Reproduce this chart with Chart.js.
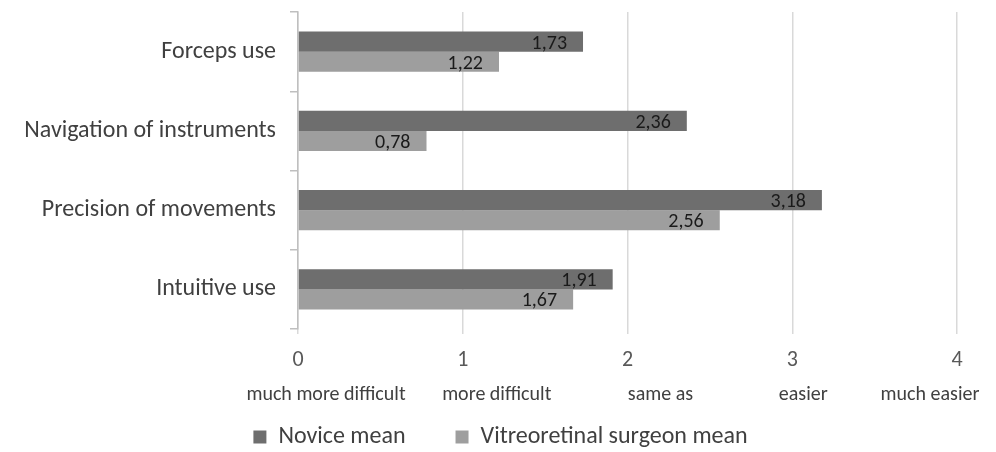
<!DOCTYPE html>
<html>
<head>
<meta charset="utf-8">
<script src="https://cdn.jsdelivr.net/npm/chart.js@4/dist/chart.umd.min.js"></script>
<style>
  html, body { margin: 0; padding: 0; background: #fff; }
  #wrap { width: 996px; height: 452px; }
</style>
</head>
<body>
<div id="wrap"><canvas id="chart"></canvas></div>
<script>
const categories = ['Forceps use', 'Navigation of instruments', 'Precision of movements', 'Intuitive use'];
const noviceMean = [1.73, 2.36, 3.18, 1.91];
const surgeonMean = [1.22, 0.78, 2.56, 1.67];
const tickValues = [0, 1, 2, 3, 4];
const tickDescriptions = ['much more difficult', 'more difficult', 'same as', 'easier', 'much easier'];

const FONT = "Carlito, Lato, 'Liberation Sans', sans-serif";
// horizontal nudges of the description line, as in the original
const descShift = [28, 34, 33, 11, -27];

const barLabels = {
  id: 'barLabels',
  afterDatasetsDraw(chart) {
    const ctx = chart.ctx;
    ctx.save();
    ctx.font = '20px ' + FONT;
    ctx.fillStyle = '#1a1a1a';
    ctx.textAlign = 'right';
    ctx.textBaseline = 'middle';
    chart.data.datasets.forEach((ds, i) => {
      chart.getDatasetMeta(i).data.forEach((bar, j) => {
        const txt = ds.data[j].toFixed(2).replace('.', ',');
        ctx.fillText(txt, bar.x - 16, bar.y + 2);
      });
    });
    ctx.restore();
  }
};

const descLine = {
  id: 'descLine',
  afterDraw(chart) {
    const ctx = chart.ctx;
    const x = chart.scales.x;
    ctx.save();
    ctx.font = '20px ' + FONT;
    ctx.fillStyle = '#404040';
    ctx.textAlign = 'center';
    ctx.textBaseline = 'middle';
    tickDescriptions.forEach((d, i) => {
      ctx.fillText(d, x.getPixelForValue(tickValues[i]) + descShift[i], chart.chartArea.bottom + 66);
    });
    ctx.restore();
  }
};

// push the legend row a little lower and re-centre it
const legendNudge = {
  id: 'legendNudge',
  afterLayout(chart) {
    if (chart.legend) {
      chart.legend.top += 7;
      chart.legend.bottom += 7;
      chart.legend.left += 22;
      chart.legend.right += 22;
    }
  }
};

new Chart(document.getElementById('chart'), {
  type: 'bar',
  data: {
    labels: categories,
    datasets: [
      { label: 'Novice mean', data: noviceMean, backgroundColor: '#6e6e6e' },
      { label: 'Vitreoretinal surgeon mean', data: surgeonMean, backgroundColor: '#9e9e9e' }
    ]
  },
  options: {
    indexAxis: 'y',
    responsive: true,
    maintainAspectRatio: false,
    animation: false,
    categoryPercentage: 0.51,
    barPercentage: 1,
    layout: { padding: { top: 12, right: 39, left: 0, bottom: 0 } },
    scales: {
      x: {
        min: 0,
        max: 4,
        afterBuildTicks: s => { s.ticks = tickValues.map(v => ({ value: v })); },
        afterFit: s => { s.height = 39; },
        border: { display: false },
        grid: { color: '#d9d9d9', lineWidth: 1.5, tickLength: 5 },
        ticks: { color: '#595959', font: { family: FONT, size: 22 }, padding: 13 }
      },
      y: {
        afterFit: s => { s.width = 298; s.paddingTop = 0; s.paddingBottom = 0; },
        border: { color: '#bfbfbf', width: 1.5 },
        grid: { drawOnChartArea: false, offset: true, tickLength: 8, color: '#bfbfbf', lineWidth: 1.5 },
        ticks: { color: '#404040', font: { family: FONT, size: 24 }, padding: 14 }
      }
    },
    plugins: {
      legend: {
        position: 'bottom',
        labels: {
          color: '#404040',
          font: { family: FONT, size: 24 },
          boxWidth: 13,
          boxHeight: 13,
          padding: 50
        }
      },
      tooltip: { enabled: false }
    }
  },
  plugins: [barLabels, descLine, legendNudge]
});
</script>
</body>
</html>
